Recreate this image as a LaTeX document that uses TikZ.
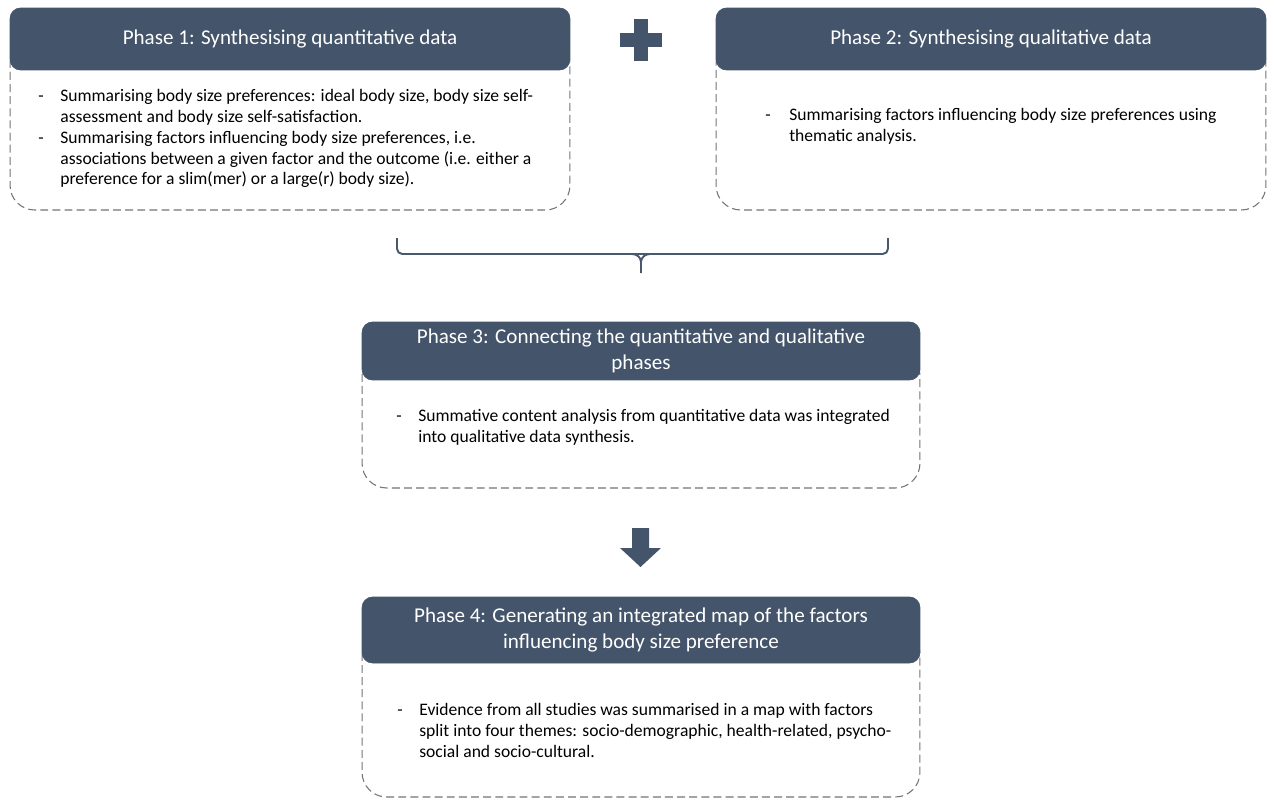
\documentclass[tikz,border=0pt]{standalone}
\usepackage{fontspec}
\setmainfont{Carlito}
\usetikzlibrary{positioning}

\definecolor{slate}{RGB}{68,84,106}
\definecolor{dashgray}{RGB}{115,115,115}

\tikzset{
  phasehead/.style={fill=slate, draw=slate, rounded corners=6pt, text=white, align=center,
    font=\fontsize{12}{14.4}\selectfont},
  phasebody/.style={draw=dashgray, line width=0.6pt, dash pattern=on 4.5pt off 2.4pt,
    rounded corners=14pt},
  bodytext/.style={inner sep=0pt, anchor=west, font=\fontsize{10}{11.9}\selectfont},
  brace/.style={draw=slate!90!gray, line width=1.1pt, rounded corners=3pt}
}

\begin{document}
\begin{tikzpicture}[x=0.02cm, y=-0.02cm]
  \useasboundingbox (0,0) rectangle (1274,801);

  % Phase 1
  \node[phasebody, minimum width=11.2cm, minimum height=3.42cm] (body1) at (290,124.5) {};
  \node[phasehead, minimum width=11.2cm, minimum height=1.24cm] (head1) at (290,39)
    {Phase 1: Synthesising quantitative data};
  \node[bodytext] (text1) at (38,139) {%
    \begin{tabular}{@{}p{0.44cm}@{}l@{}}
      - & Summarising body size preferences: ideal body size, body size self-\\
        & assessment and body size self-satisfaction.\\
      - & Summarising factors influencing body size preferences, i.e.\\
        & associations between a given factor and the outcome (i.e. either a\\
        & preference for a slim(mer) or a large(r) body size).
    \end{tabular}};

  % Plus sign
  \fill[slate] (634,19) rectangle (648,61);
  \fill[slate] (620,33) rectangle (662,47);

  % Phase 2
  \node[phasebody, minimum width=11.0cm, minimum height=3.42cm] (body2) at (991,124.5) {};
  \node[phasehead, minimum width=11.0cm, minimum height=1.24cm] (head2) at (991,39)
    {Phase 2: Synthesising qualitative data};
  \node[bodytext] (text2) at (765,127) {%
    \begin{tabular}{@{}p{0.48cm}@{}l@{}}
      - & Summarising factors influencing body size preferences using\\
        & thematic analysis.
    \end{tabular}};

  % Brace joining phases 1 and 2
  \coordinate (braceL) at (397,238);
  \coordinate (braceR) at (888,238);
  \coordinate (braceM) at (641,254);
  \coordinate (braceTip) at (641,273);
  \draw[brace] (braceL) |- (braceM) -| (braceR);
  \draw[brace, rounded corners=0pt] (braceM) ++(-9,0) to[out=0,in=90] ++(9,8) -- (braceTip);
  \draw[brace, rounded corners=0pt] (braceM) ++(9,0) to[out=180,in=90] ++(-9,8);

  % Phase 3
  \node[phasebody, minimum width=11.16cm, minimum height=2.74cm] (body3) at (641,419.5) {};
  \node[phasehead, minimum width=11.16cm, minimum height=1.16cm] (head3) at (641,351)
    {Phase 3: Connecting the quantitative and qualitative\\phases};
  \node[bodytext] (text3) at (396,428) {%
    \begin{tabular}{@{}p{0.44cm}@{}l@{}}
      - & Summative content analysis from quantitative data was integrated\\
        & into qualitative data synthesis.
    \end{tabular}};

  % Block arrow down
  \coordinate (arrTop) at (640.5,528);
  \fill[slate] (arrTop) ++(-8.5,0) -- ++(17,0) -- ++(0,20) -- ++(12,0)
    -- ++(-20.5,19) -- ++(-20.5,-19) -- ++(12,0) -- cycle;

  % Phase 4
  \node[phasebody, minimum width=11.16cm, minimum height=3.34cm] (body4) at (641,713.5) {};
  \node[phasehead, minimum width=11.16cm, minimum height=1.32cm] (head4) at (641,630)
    {Phase 4: Generating an integrated map of the factors\\influencing body size preference};
  \node[bodytext] (text4) at (397,732) {%
    \begin{tabular}{@{}p{0.44cm}@{}l@{}}
      - & Evidence from all studies was summarised in a map with factors\\
        & split into four themes: socio-demographic, health-related, psycho-\\
        & social and socio-cultural.
    \end{tabular}};
\end{tikzpicture}
\end{document}
